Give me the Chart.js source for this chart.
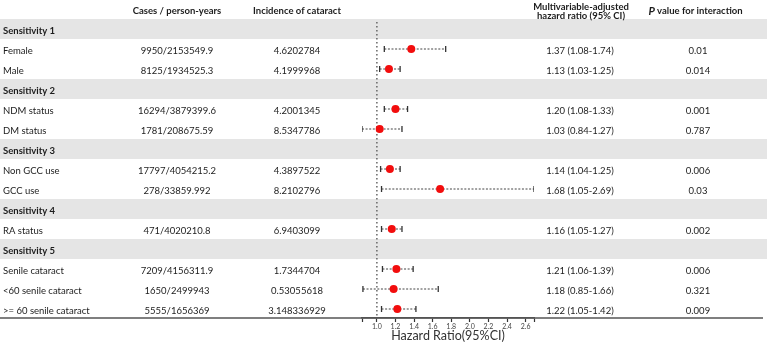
<!DOCTYPE html>
<html>
<head>
<meta charset="utf-8">
<script src="https://cdn.jsdelivr.net/npm/chart.js@4.4.0/dist/chart.umd.min.js"></script>
<style>
  html, body { margin: 0; padding: 0; background: #fff; }
  #wrap { width: 767px; height: 344px; }
</style>
</head>
<body>
<div id="wrap"><canvas id="forest" width="767" height="344"></canvas></div>
<script>
// --- DATA ---
const rowLabels = ['Sensitivity 1', 'Female', 'Male', 'Sensitivity 2', 'NDM status', 'DM status',
    'Sensitivity 3', 'Non GCC use', 'GCC use', 'Sensitivity 4', 'RA status',
    'Sensitivity 5', 'Senile cataract', '<60 senile cataract', '>= 60 senile cataract'];
const isGroup = [true, false, false, true, false, false, true, false, false, true, false, true, false, false, false];
const cases = ['', '9950/2153549.9', '8125/1934525.3', '', '16294/3879399.6', '1781/208675.59',
    '', '17797/4054215.2', '278/33859.992', '', '471/4020210.8',
    '', '7209/4156311.9', '1650/2499943', '5555/1656369'];
const incidence = ['', '4.6202784', '4.1999968', '', '4.2001345', '8.5347786',
    '', '4.3897522', '8.2102796', '', '6.9403099',
    '', '1.7344704', '0.53055618', '3.148336929'];
const hr = [null, 1.37, 1.13, null, 1.20, 1.03, null, 1.14, 1.68, null, 1.16, null, 1.21, 1.18, 1.22];
const lower = [null, 1.08, 1.03, null, 1.08, 0.84, null, 1.04, 1.05, null, 1.05, null, 1.06, 0.85, 1.05];
const upper = [null, 1.74, 1.25, null, 1.33, 1.27, null, 1.25, 2.69, null, 1.27, null, 1.39, 1.66, 1.42];
const pValues = ['', '0.01', '0.014', '', '0.001', '0.787', '', '0.006', '0.03', '', '0.002', '', '0.006', '0.321', '0.009'];
const xTicks = [0.84, 1.0, 1.2, 1.4, 1.6, 1.8, 2.0, 2.2, 2.4, 2.6, 2.69];
const xTickLabels = ['', '1.0', '1.2', '1.4', '1.6', '1.8', '2.0', '2.2', '2.4', '2.6', ''];

const FONT = 'Lato';
const TEXT = '#1c1c1c';

// --- TABLE DRAWING ---
const tablePlugin = {
    id: 'forestTable',
    beforeDraw(chart) {
        const { ctx, scales: { y } } = chart;
        ctx.save();
        ctx.fillStyle = '#e5e5e5';
        rowLabels.forEach((lab, i) => {
            if (!isGroup[i]) return;
            const cy = y.getPixelForValue(i);
            ctx.fillRect(0, cy - 10, chart.width, 20);
        });
        ctx.restore();
    },
    afterDraw(chart) {
        const { ctx, chartArea, scales: { y } } = chart;
        ctx.save();
        ctx.fillStyle = TEXT;
        ctx.textBaseline = 'middle';

        // headers
        ctx.font = `bold 9.5px ${FONT}`;
        ctx.textAlign = 'center';
        ctx.fillText('Cases / person-years', 177, 11);
        ctx.fillText('Incidence of cataract', 297, 11);
        ctx.fillText('Multivariable-adjusted', 581, 6.5);
        ctx.fillText('hazard ratio (95% CI)', 581, 15.5);

        const pTxt = 'P';
        const rest = ' value for interaction';
        ctx.font = `italic bold 11px ${FONT}`;
        const pw = ctx.measureText(pTxt).width;
        ctx.font = `bold 9.5px ${FONT}`;
        const rw = ctx.measureText(rest).width;
        const startX = 695.5 - (pw + rw) / 2;
        ctx.textAlign = 'left';
        ctx.font = `italic bold 11px ${FONT}`;
        ctx.fillText(pTxt, startX, 11);
        ctx.font = `bold 9.5px ${FONT}`;
        ctx.fillText(rest, startX + pw, 11);

        // rows
        rowLabels.forEach((lab, i) => {
            const cy = y.getPixelForValue(i) + 1.5;
            ctx.textAlign = 'left';
            ctx.font = isGroup[i] ? `bold 9.5px ${FONT}` : `9.5px ${FONT}`;
            ctx.fillText(lab, 3, cy);
            if (isGroup[i]) return;
            ctx.font = `9.5px ${FONT}`;
            ctx.textAlign = 'center';
            ctx.fillText(cases[i], 177, cy);
            ctx.fillText(incidence[i], 297, cy);
            ctx.fillText(`${hr[i].toFixed(2)} (${lower[i].toFixed(2)}-${upper[i].toFixed(2)})`, 580, cy);
            ctx.fillText(pValues[i], 698, cy);
        });

        // bottom rule
        ctx.strokeStyle = '#555';
        ctx.lineWidth = 1.5;
        ctx.beginPath();
        ctx.moveTo(0, chartArea.bottom);
        ctx.lineTo(763, chartArea.bottom);
        ctx.stroke();

        // axis title
        ctx.fillStyle = '#333';
        ctx.font = `12.5px ${FONT}`;
        ctx.textAlign = 'center';
        ctx.fillText('Hazard Ratio(95%CI)', (chartArea.left + chartArea.right) / 2, 336);
        ctx.restore();
    }
};

// --- DATASETS ---
const ciSets = [];
hr.forEach((v, i) => {
    if (v === null) return;
    ciSets.push({
        type: 'line',
        data: [{ x: lower[i], y: i }, { x: upper[i], y: i }],
        borderColor: '#444',
        borderWidth: 1,
        borderDash: [2, 1.6],
        pointStyle: 'line',
        rotation: 90,
        pointRadius: 3,
        pointBorderWidth: 1.3,
        pointBorderColor: '#333',
        order: 2
    });
});

const refLine = {
    type: 'line',
    data: [{ x: 1, y: -0.35 }, { x: 1, y: 14.45 }],
    borderColor: '#666',
    borderWidth: 1.5,
    borderDash: [1.5, 2.5],
    pointRadius: 0,
    order: 3
};

const points = {
    type: 'scatter',
    data: hr.map((v, i) => (v === null ? null : { x: v, y: i })).filter(p => p),
    backgroundColor: '#f20d0d',
    borderWidth: 0,
    pointRadius: 4,
    order: 1
};

new Chart(document.getElementById('forest'), {
    type: 'scatter',
    data: { datasets: [refLine, ...ciSets, points] },
    options: {
        responsive: false,
        devicePixelRatio: 1,
        animation: false,
        events: [],
        layout: { padding: { left: 362, right: 233, top: 19, bottom: 0 } },
        plugins: { legend: { display: false }, tooltip: { enabled: false } },
        scales: {
            x: {
                type: 'linear',
                min: 0.84,
                max: 2.69,
                afterBuildTicks: s => { s.ticks = xTicks.map(v => ({ value: v })); },
                afterFit: s => { s.height = 26; },
                ticks: {
                    autoSkip: false,
                    maxRotation: 0,
                    padding: 1,
                    color: '#444',
                    font: { family: FONT, size: 7 },
                    callback: (v, idx) => xTickLabels[idx]
                },
                grid: { drawOnChartArea: false, drawTicks: true, tickLength: 4, tickWidth: 1.2, color: '#333' },
                border: { display: true, color: '#555', width: 1.5 }
            },
            y: {
                type: 'linear',
                reverse: true,
                min: -0.5,
                max: 14.45,
                display: false
            }
        }
    },
    plugins: [tablePlugin]
});
</script>
</body>
</html>
